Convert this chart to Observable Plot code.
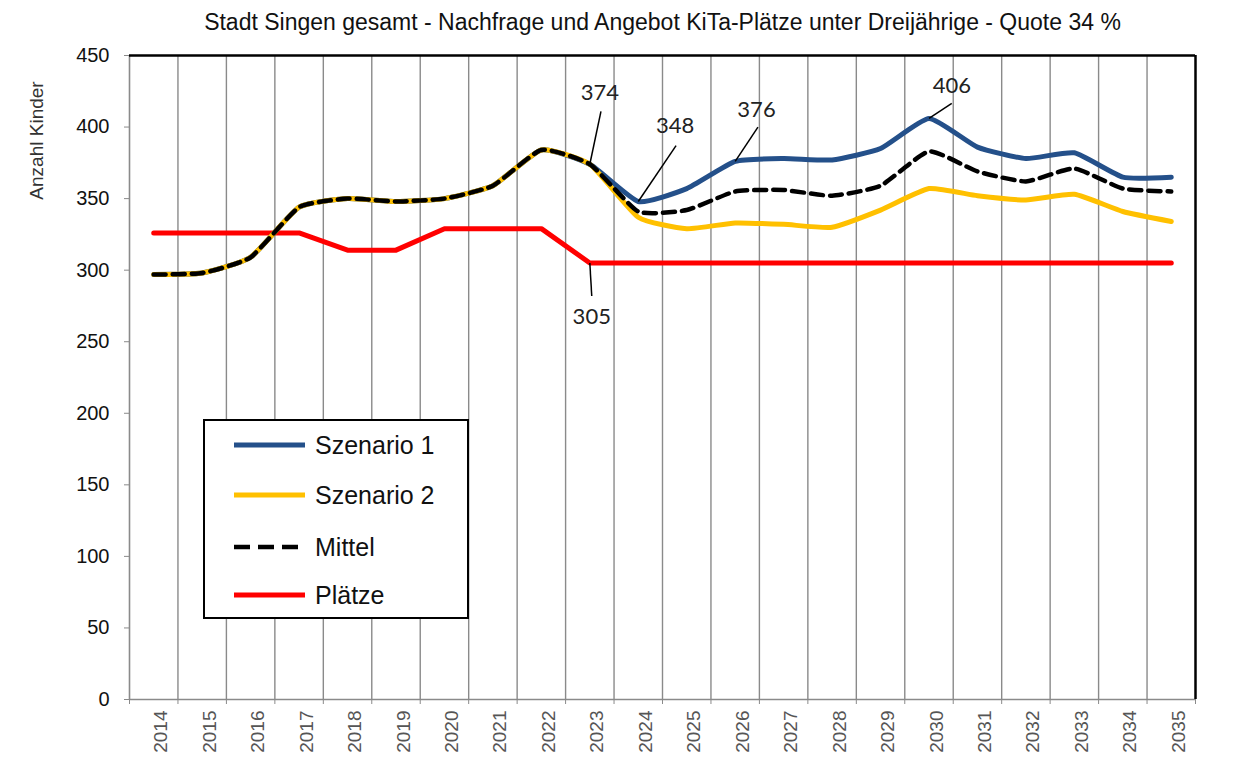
<!DOCTYPE html>
<html>
<head>
<meta charset="utf-8">
<script src="https://cdn.jsdelivr.net/npm/d3@7"></script>
<script src="https://cdn.jsdelivr.net/npm/@observablehq/plot@0.6"></script>
<style>
  html, body { margin: 0; padding: 0; background: #fff; overflow: hidden; }
  body { font-family: "Liberation Sans", Arial, sans-serif; }
  #wrap { position: relative; width: 1235px; height: 765px; overflow: hidden; }
  #title { box-sizing: border-box; width: 1235px; height: 44px; line-height: 44px; text-align: center;
           font-size: 23px; color: #111; padding-left: 90px; white-space: nowrap; }
  #legend { position: absolute; left: 203px; top: 419px; width: 266px; height: 200px; box-sizing: border-box;
            border: 2px solid #000; background: #fff; }
  .row { position: absolute; left: 27px; height: 36px; display: flex; align-items: center;
         font-size: 25px; color: #111; white-space: nowrap; }
  .row svg { margin-right: 8px; }
</style>
</head>
<body>
<div id="wrap">
  <div id="title">Stadt Singen gesamt - Nachfrage und Angebot KiTa-Plätze unter Dreijährige - Quote 34 %</div>
  <div id="chart"></div>
  <div id="legend"></div>
</div>
<script>
// ---- data ----
const years = [2014, 2015, 2016, 2017, 2018, 2019, 2020, 2021, 2022, 2023, 2024,
               2025, 2026, 2027, 2028, 2029, 2030, 2031, 2032, 2033, 2034, 2035];
const szenario1 = [297, 298, 309, 344, 350, 348, 350, 359, 384, 374, 348,
                   357, 376, 378, 377, 385, 406, 386, 378, 382, 365, 365];
const szenario2 = [297, 298, 309, 344, 350, 348, 350, 359, 384, 374, 337,
                   329, 333, 332, 330, 342, 357, 352, 349, 353, 341, 334];
const mittel    = [297, 298, 309, 344, 350, 348, 350, 359, 384, 374, 341,
                   342, 355, 356, 352, 359, 383, 369, 362, 371, 357, 355];
const plaetze   = [326, 326, 326, 326, 314, 314, 329, 329, 329, 305, 305,
                   305, 305, 305, 305, 305, 305, 305, 305, 305, 305, 305];
const seriesNames = ["Szenario 1", "Szenario 2", "Mittel", "Plätze"];
const yTicks = [0, 50, 100, 150, 200, 250, 300, 350, 400, 450];
const yLabel = "Anzahl Kinder";

// annotated points (series, year)
const annotated = [
  {series: szenario1, year: 2023},
  {series: szenario1, year: 2024},
  {series: szenario1, year: 2026},
  {series: szenario1, year: 2030},
  {series: plaetze,   year: 2023}
];
// leader end / label offsets (in data units: years, Kinder)
const annoOffsets = [
  {lx: 0.23, lv: 37, tx: 0.21, tv: 50},
  {lx: 0.78, lv: 39, tx: 0.76, tv: 53},
  {lx: 0.47, lv: 24, tx: 0.44, tv: 36},
  {lx: 0.47, lv: 10.5, tx: 0.47, tv: 23},
  {lx: 0.04, lv: -23, tx: 0.04, tv: -38}
];

// ---- build ----
const toRows = (vals, name) => years.map((year, i) => ({year, value: vals[i], series: name}));
const dS1 = toRows(szenario1, seriesNames[0]);
const dS2 = toRows(szenario2, seriesNames[1]);
const dM  = toRows(mittel, seriesNames[2]);
const dP  = toRows(plaetze, seriesNames[3]);

const anno = annotated.map((a, k) => {
  const v = a.series[years.indexOf(a.year)];
  const o = annoOffsets[k];
  return {year: a.year, value: v, lx: a.year + o.lx, lv: v + o.lv, tx: a.year + o.tx, tv: v + o.tv};
});

const boundaries = years.map(y => y - 0.5);
const inner = boundaries.slice(1);

const colors = {"Szenario 1": "#24508a", "Szenario 2": "#ffc000", "Mittel": "#000000", "Plätze": "#ff0000"};
const smooth = {curve: "cardinal", tension: 0.5};

const chart = Plot.plot({
  width: 1235,
  height: 721,
  marginTop: 11,
  marginRight: 40,
  marginBottom: 66,
  marginLeft: 129,
  x: {type: "linear", domain: [years[0] - 0.5, years[years.length - 1] + 0.5]},
  y: {domain: [yTicks[0], yTicks[yTicks.length - 1]]},
  style: {fontFamily: "Liberation Sans, Arial, sans-serif", background: "white", overflow: "visible"},
  marks: [
    Plot.ruleX(inner, {stroke: "#8a8a8a", strokeWidth: 1.4}),
    Plot.ruleY([yTicks[0]], {stroke: "#8a8a8a", strokeWidth: 1.6}),
    Plot.ruleX([years[0] - 0.5], {stroke: "#8a8a8a", strokeWidth: 1.6}),
    Plot.ruleY([yTicks[yTicks.length - 1]], {stroke: "#000", strokeWidth: 2.5}),
    Plot.ruleX([years[years.length - 1] + 0.5], {stroke: "#000", strokeWidth: 2.5}),
    Plot.axisY({ticks: yTicks, tickSize: 5, tickPadding: 15, fontSize: 20, label: null,
                stroke: "#8a8a8a", fill: "#111", tickFormat: d => String(d)}),
    Plot.axisX({ticks: boundaries.concat([years[years.length - 1] + 0.5]), tickSize: 5, tickFormat: () => "",
                label: null, stroke: "#8a8a8a"}),
    Plot.axisX({ticks: years, tickSize: 0, tickPadding: 11, rotate: -90, textAnchor: "end", fontSize: 19, label: null,
                fill: "#555", tickFormat: d => String(d)}),
    Plot.line(dP,  {x: "year", y: "value", stroke: colors["Plätze"], strokeWidth: 5, curve: "linear", strokeLinejoin: "round"}),
    Plot.line(dS1, {x: "year", y: "value", stroke: colors["Szenario 1"], strokeWidth: 5, ...smooth}),
    Plot.line(dS2, {x: "year", y: "value", stroke: colors["Szenario 2"], strokeWidth: 5, ...smooth}),
    Plot.line(dM,  {x: "year", y: "value", stroke: colors["Mittel"], strokeWidth: 4.5, strokeDasharray: "12,7", ...smooth}),
    Plot.link(anno, {x1: "year", y1: "value", x2: "lx", y2: "lv", stroke: "#000", strokeWidth: 1.5}),
    Plot.text(anno, {x: "tx", y: "tv", text: d => String(d.value), fontSize: 22, fontFamily: "Lato, Carlito, sans-serif", fill: "#222"}),
    Plot.text([yLabel], {frameAnchor: "top-left", dx: -100, dy: 85, rotate: -90, fontSize: 19, fill: "#333", textAnchor: "middle"})
  ]
});
document.getElementById("chart").appendChild(chart);

// ---- legend ----
const legend = document.getElementById("legend");
const rowTops = [6, 56, 108, 156];
seriesNames.forEach((name, i) => {
  const row = document.createElement("div");
  row.className = "row";
  row.style.top = rowTops[i] + "px";
  const dash = name === "Mittel" ? ' stroke-dasharray="16,8"' : "";
  const sw = name === "Mittel" ? 4.5 : 5;
  row.innerHTML = `<svg width="75" height="10"><line x1="2" y1="5" x2="73" y2="5" stroke="${colors[name]}" stroke-width="${sw}"${dash}/></svg><span>${name}</span>`;
  legend.appendChild(row);
});
</script>
</body>
</html>
